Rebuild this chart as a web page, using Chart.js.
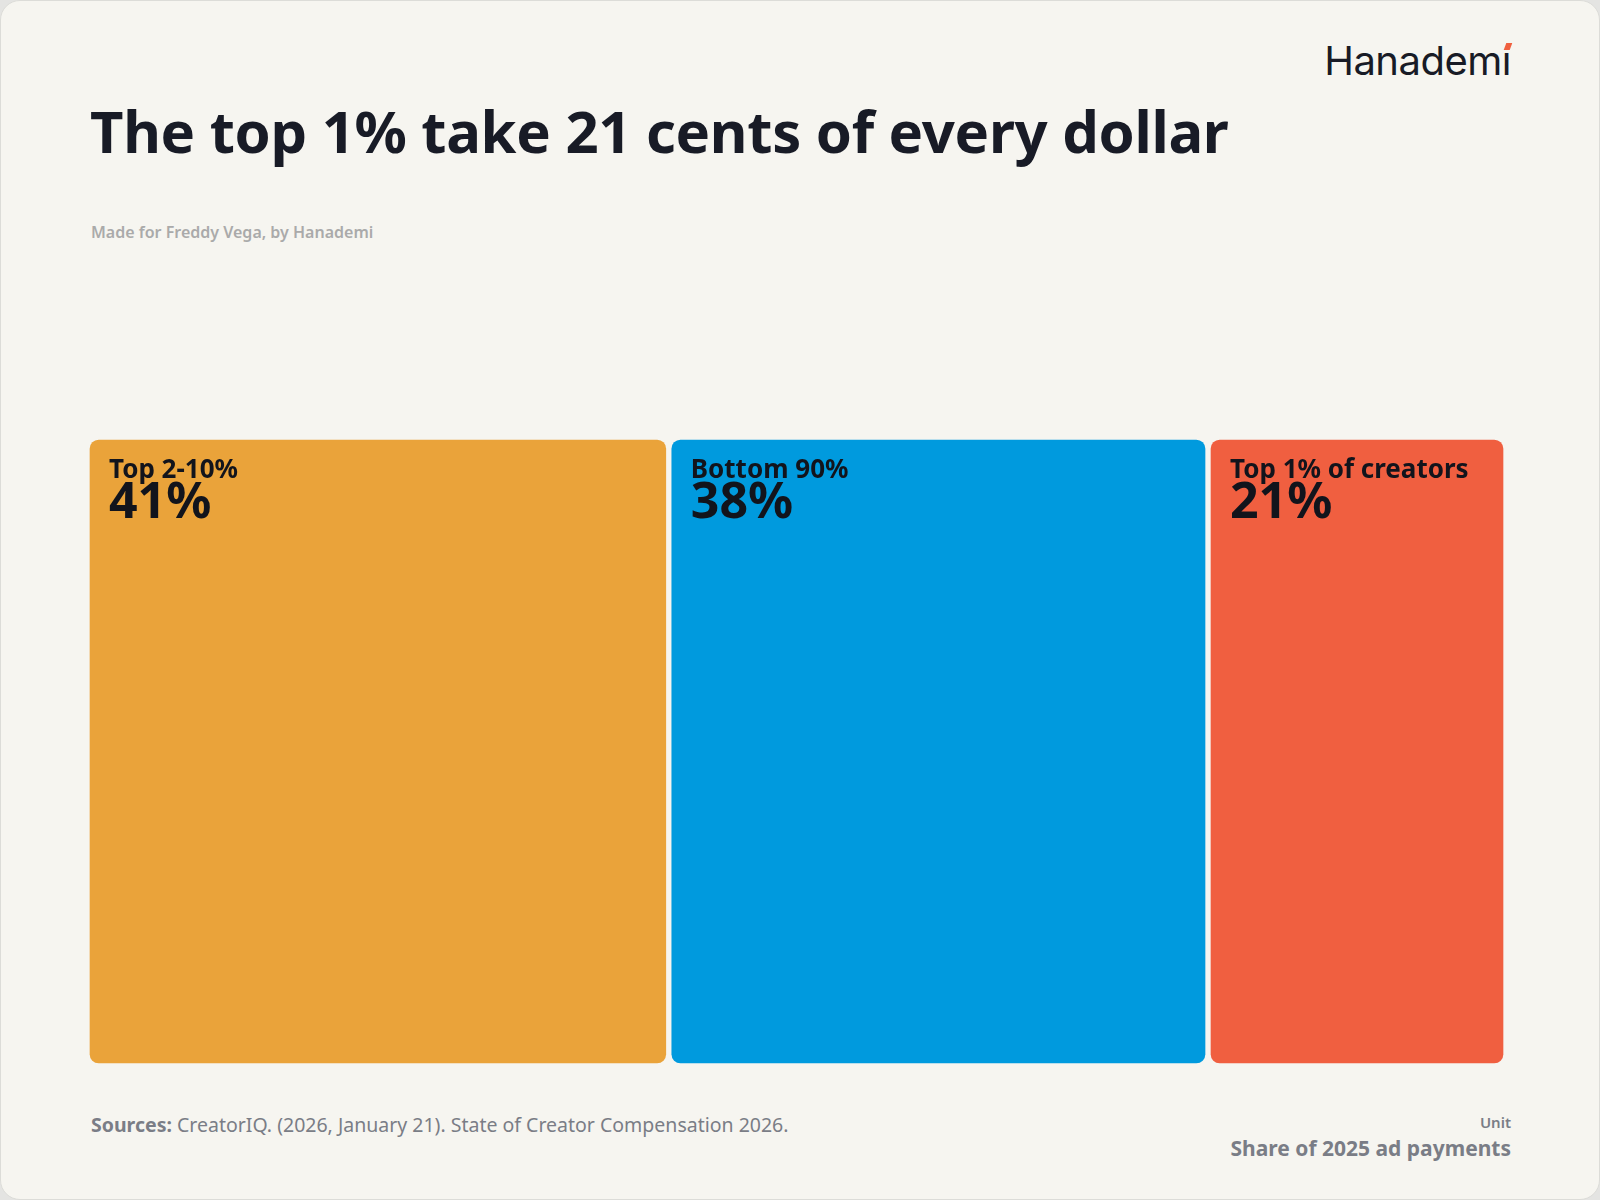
<!DOCTYPE html>
<html>
<head>
<meta charset="utf-8">
<script src="https://cdn.jsdelivr.net/npm/chart.js@4"></script>
<style>
  body { margin:0; background:#e4e4e2; font-family:"Noto Sans", Inter, sans-serif; }
  #card { position:absolute; left:0; top:0; width:1598px; height:1198px; background:#f6f5f0;
          border:1px solid #dcdcd8; border-radius:20px; overflow:hidden; }
  #logo { position:absolute; right:88px; top:35px; font-family:Inter, sans-serif; font-size:40px; color:#181b26; letter-spacing:-0.5px; }
  #logo span { position:relative; }
  #logo span:after { content:""; position:absolute; left:3px; top:7px; width:6px; height:7px; background:#f0603f; transform:skewX(-20deg); }
  h1 { position:absolute; left:89px; top:90px; margin:0; font-size:58px; font-weight:700; color:#181b26; letter-spacing:-0.3px; }
  #sub { position:absolute; left:90px; top:220px; font-size:16px; font-weight:600; color:#aaaaaa; }
  #wrap { position:absolute; left:86px; top:436px; width:1419px; height:629px; }
  #src { position:absolute; left:90px; top:1110px; font-size:19.5px; color:#7a7d86; }
  #unit { position:absolute; right:88px; top:1111px; text-align:right; color:#7a7d86; }
  #unit .a { font-size:15px; font-weight:600; }
  #unit .b { font-size:21px; font-weight:700; margin-top:2px; }
</style>
</head>
<body>
<div id="card">
  <div id="logo">Hanadem<span>ı</span></div>
  <h1>The top 1% take 21 cents of every dollar</h1>
  <div id="sub">Made for Freddy Vega, by Hanademi</div>
  <div id="wrap"><canvas id="chart"></canvas></div>
  <div id="src"><b>Sources:</b> CreatorIQ. (2026, January 21). State of Creator Compensation 2026.</div>
  <div id="unit"><div class="a">Unit</div><div class="b">Share of 2025 ad payments</div></div>
</div>
<script>
const groups = ['Top 2-10%', 'Bottom 90%', 'Top 1% of creators'];
const shares = [41, 38, 21];
const colors = ['#eaa33a', '#009ade', '#f05f40'];

// each box runs from the running total to running total + share
let run = 0;
const spans = shares.map(s => { const r = [run, run + s]; run += s; return r; });

const boxLabels = {
  id: 'boxLabels',
  afterDatasetsDraw(chart) {
    const ctx = chart.ctx;
    chart.data.datasets.forEach((ds, i) => {
      const el = chart.getDatasetMeta(i).data[0];
      const left = Math.min(el.base, el.x) + 22;
      const top = el.y - el.height / 2 + 21;
      ctx.save();
      ctx.fillStyle = '#12141c';
      ctx.textBaseline = 'top';
      ctx.font = 'bold 26px "Noto Sans"';
      ctx.fillText(ds.label, left, top);
      ctx.font = 'bold 50px "Noto Sans"';
      ctx.fillText(shares[i] + '%', left, top + 21);
      ctx.restore();
    });
  }
};

new Chart(document.getElementById('chart'), {
  type: 'bar',
  data: {
    labels: [''],
    datasets: groups.map((g, i) => ({
      label: g,
      data: [spans[i]],
      backgroundColor: colors[i],
      borderColor: '#f6f5f0',
      borderWidth: 3,
      borderRadius: 12,
      borderSkipped: false,
      barPercentage: 1,
      categoryPercentage: 1
    }))
  },
  options: {
    indexAxis: 'y',
    responsive: true,
    maintainAspectRatio: false,
    animation: false,
    layout: { padding: 0 },
    plugins: { legend: { display: false }, tooltip: { enabled: false } },
    scales: {
      x: { min: 0, max: 100, display: false },
      y: { stacked: true, display: false }
    }
  },
  plugins: [boxLabels]
});
</script>
</body>
</html>
